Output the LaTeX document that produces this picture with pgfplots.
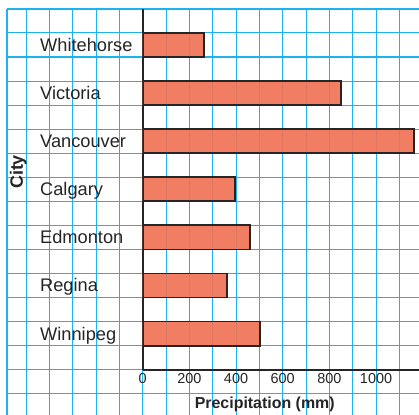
\documentclass[border=0pt]{standalone}
\usepackage{fontspec}
\setmainfont{Liberation Sans}
\usepackage{pgfplots}
\usepackage{pgfplotstable}
\pgfplotsset{compat=1.18}
\definecolor{gridblue}{RGB}{30,178,240}
\definecolor{barfill}{RGB}{240,115,85}
\definecolor{ink}{RGB}{38,36,36}

\pgfplotstableread{
y v
1.5 503
3.5 361
5.5 460
7.5 394
9.5 1163
11.5 851
13.5 263
}\precip

\begin{document}
\begin{tikzpicture}
\useasboundingbox (-6.7bp,0bp) rectangle (412.3bp,415bp);
\begin{axis}[
  at={(0bp,0bp)}, anchor=south west,
  scale only axis, width=412.3bp, height=406.1bp,
  xmin=-583, xmax=1184, ymin=-1.885, ymax=15,
  xtick={-500,-400,...,1100}, ytick={-1,0,...,14},
  xticklabels={}, yticklabels={},
  major tick length=0pt,
  grid=major, grid style={gridblue, line width=1.1bp},
  axis line style={draw=none},
  extra x ticks={-583}, extra y ticks={15},
  extra x tick labels={}, extra y tick labels={},
  extra tick style={grid style={gridblue, line width=2.2bp}},
]
\end{axis}
\begin{axis}[
  at={(136bp,45.33bp)}, anchor=south west,
  scale only axis, width=276.3bp, height=360.75bp,
  xmin=0, xmax=1184, ymin=0, ymax=15,
  axis x line*=bottom, axis y line*=left,
  axis line style={-, draw=ink, line width=1.7bp},
  major tick length=0pt,
  xtick={0,200,...,1000},
  ytick={1.5,3.5,...,13.5},
  yticklabels={Winnipeg,Regina,Edmonton,Calgary,Vancouver,Victoria,Whitehorse},
  /pgf/number format/assume math mode=true,
  /pgf/number format/1000 sep={},
  xticklabel style={font=\fontsize{14.5}{16}\selectfont, text=ink},
  yticklabel style={anchor=base west, xshift=-102.7bp, yshift=-6.5bp, inner sep=0pt,
    font=\fontsize{18.3}{20}\selectfont, text=ink},
  xlabel={Precipitation (mm)},
  xlabel style={at={(axis description cs:0.4417,0)}, anchor=base, yshift=-39bp,
    font=\bfseries\fontsize{16}{18}\selectfont, text=ink},
  ylabel={City},
  ylabel style={at={(axis description cs:-0.4502,0.548)}, anchor=center,
    font=\bfseries\fontsize{18}{20}\selectfont, text=ink},
]
\addplot[xbar, bar width=24.05bp, fill=barfill, fill opacity=0.92, draw=ink, line width=1.8bp]
  table[x=v, y=y]{\precip};
\end{axis}
\end{tikzpicture}
\end{document}
